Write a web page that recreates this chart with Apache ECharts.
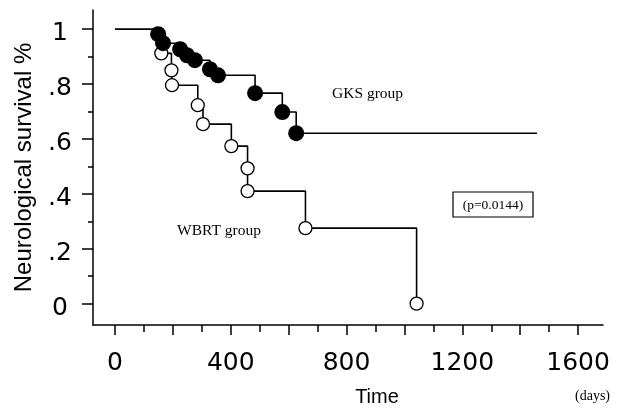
<!DOCTYPE html>
<html>
<head>
<meta charset="utf-8">
<script src="https://cdn.jsdelivr.net/npm/echarts@6/dist/echarts.min.js"></script>
<style>html,body{margin:0;padding:0;background:#fff;}#c{width:627px;height:410px;}</style>
</head>
<body>
<div id="c"></div>
<script>
// ---- data ----
const gksTime = [0, 149, 166, 225, 249, 276, 328, 356, 484, 578, 626, 1458];
const gksSurv = [1, 0.982, 0.949, 0.927, 0.905, 0.887, 0.854, 0.832, 0.767, 0.698, 0.621, 0.621];
const gksEvent = [false, true, true, true, true, true, true, true, true, true, true, false];

const wbrtTime = [0, 160, 195, 197, 286, 304, 402, 458, 458, 658, 1042];
const wbrtSurv = [1, 0.912, 0.850, 0.796, 0.723, 0.654, 0.574, 0.493, 0.410, 0.275, 0];
const wbrtEvent = [false, true, true, true, true, true, true, true, true, true, true];

const xMajorTicks = [0, 200, 400, 600, 800, 1000, 1200, 1400, 1600];
const xMinorTicks = [100, 300, 500, 700, 900, 1100, 1300, 1500];
const xTickLabels = [0, 400, 800, 1200, 1600];
const yTickValues = [0, 0.2, 0.4, 0.6, 0.8, 1];
const yTickLabels = ['0', '.2', '.4', '.6', '.8', '1'];
const yMinorTicks = [0.1, 0.3, 0.5, 0.7, 0.9];

const xMin = -76, xMax = 1686, yMin = -0.078, yMax = 1.07;

const pts = (t, s) => t.map((v, i) => [v, s[i]]);
const evts = (t, s, e) => t.map((v, i) => [v, s[i]]).filter((p, i) => e[i]);

const chart = echarts.init(document.getElementById('c'), null, {renderer: 'canvas'});
const black = '#000';
const tickFont = {fontFamily: 'DejaVu Sans', fontSize: 25, color: black};

chart.setOption({
  animation: false,
  backgroundColor: '#fff',
  grid: {left: 93, right: 24, top: 10, bottom: 85, containLabel: false, outerBoundsMode: 'none'},
  xAxis: [
    {
      type: 'value', min: xMin, max: xMax, position: 'bottom',
      axisLine: {show: true, onZero: false, lineStyle: {color: black, width: 1.5}},
      axisTick: {show: true, customValues: xMajorTicks, length: 10, lineStyle: {color: black, width: 1.5}},
      axisLabel: Object.assign({show: true, customValues: xTickLabels, margin: 38, verticalAlign: 'middle',
        formatter: v => String(v)}, tickFont),
      splitLine: {show: false}
    },
    {
      type: 'value', min: xMin, max: xMax, position: 'bottom',
      axisLine: {show: false, onZero: false},
      axisTick: {show: true, customValues: xMinorTicks, length: 7, lineStyle: {color: black, width: 1.5}},
      axisLabel: {show: false},
      splitLine: {show: false}
    }
  ],
  yAxis: [
    {
      type: 'value', min: yMin, max: yMax, position: 'left',
      name: 'Neurological survival %', nameLocation: 'middle', nameRotate: 90, nameGap: 57,
      nameTextStyle: {fontFamily: 'Liberation Sans', fontSize: 24, color: black},
      axisLine: {show: true, onZero: false, lineStyle: {color: black, width: 1.5}},
      axisTick: {show: true, customValues: yTickValues, length: 11, lineStyle: {color: black, width: 1.5}},
      axisLabel: {show: true, customValues: yTickValues, margin: 33, align: 'center', verticalAlign: 'middle',
        formatter: v => '{s| }\n{a|' + yTickLabels[yTickValues.findIndex(t => Math.abs(t - v) < 1e-6)] + '}',
        rich: {
          s: {fontSize: 2, lineHeight: 9},
          a: {fontFamily: 'DejaVu Sans', fontSize: 25, lineHeight: 28, color: black, align: 'center'}
        }},
      splitLine: {show: false}
    },
    {
      type: 'value', min: yMin, max: yMax, position: 'left',
      axisLine: {show: false, onZero: false},
      axisTick: {show: true, customValues: yMinorTicks, length: 5, lineStyle: {color: black, width: 1.5}},
      axisLabel: {show: false},
      splitLine: {show: false}
    }
  ],
  series: [
    {
      name: 'GKS', type: 'line', step: 'end', data: pts(gksTime, gksSurv),
      showSymbol: false, symbol: 'none', lineStyle: {color: black, width: 1.6}, z: 2
    },
    {
      name: 'WBRT', type: 'line', step: 'end', data: pts(wbrtTime, wbrtSurv),
      showSymbol: false, symbol: 'none', lineStyle: {color: black, width: 1.6}, z: 2
    },
    {
      name: 'GKS events', type: 'scatter', data: evts(gksTime, gksSurv, gksEvent),
      symbol: 'circle', symbolSize: 16, itemStyle: {color: black, opacity: 1}, z: 4
    },
    {
      name: 'WBRT events', type: 'scatter', data: evts(wbrtTime, wbrtSurv, wbrtEvent),
      symbol: 'circle', symbolSize: 13,
      itemStyle: {color: '#fff', borderColor: black, borderWidth: 1.3, opacity: 1}, z: 3
    }
  ],
  graphic: [
    {type: 'text', left: 332, top: 86, style: {text: 'GKS group', font: '15.5px "Liberation Serif"', fill: black}},
    {type: 'text', left: 177, top: 223, style: {text: 'WBRT group', font: '15.5px "Liberation Serif"', fill: black}},
    {type: 'rect', shape: {x: 453, y: 192, width: 80, height: 25}, style: {fill: 'none', stroke: black, lineWidth: 1.2}},
    {type: 'text', x: 493, y: 205, style: {text: '(p=0.0144)', font: '13.5px "Liberation Serif"', fill: black, align: 'center', verticalAlign: 'middle'}},
    {type: 'text', x: 377, y: 397, style: {text: 'Time', font: '20px "Liberation Sans"', fill: black, align: 'center', verticalAlign: 'middle'}},
    {type: 'text', x: 575, y: 396, style: {text: '(days)', font: '14px "Liberation Serif"', fill: black, align: 'left', verticalAlign: 'middle'}}
  ]
});
</script>
</body>
</html>
